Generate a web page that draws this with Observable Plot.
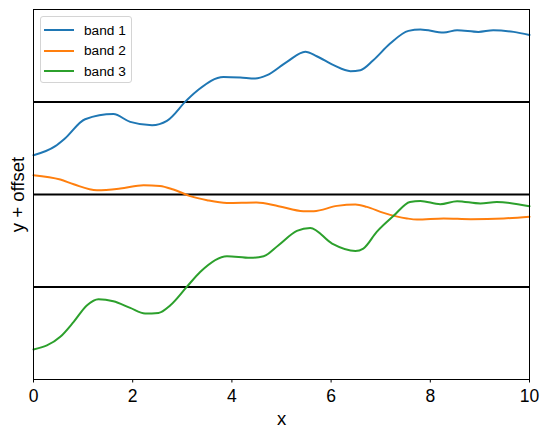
<!DOCTYPE html>
<html>
<head>
<meta charset="utf-8">
<script src="https://cdn.jsdelivr.net/npm/d3@7"></script>
<script src="https://cdn.jsdelivr.net/npm/@observablehq/plot@0.6"></script>
<style>
  html, body { margin: 0; padding: 0; background: #fff; }
  #wrap { position: relative; width: 549px; height: 438px; font-family: "Liberation Sans", Arial, sans-serif; }
  #legend { position: absolute; left: 40px; top: 16px; width: 92px; height: 67px; border: 1px solid #d4d4d4; border-radius: 3px; background: rgba(255,255,255,0.8); box-sizing: border-box; }
  .item { position: absolute; left: 3px; height: 20px; display: flex; align-items: center; font-size: 13.7px; color: #000; }
  .swatch { width: 30px; height: 2px; margin-right: 10px; }
</style>
</head>
<body>
<div id="wrap"><div id="legend"></div></div>
<script>
const seriesNames = ["band 1", "band 2", "band 3"];
const colors = ["#1f77b4", "#ff7f0e", "#2ca02c"];
const xTicks = [0, 2, 4, 6, 8, 10];
const separators = [1, 2, 3];

const band1X = [0, 0.44, 0.64, 1.04, 1.61, 1.95, 2.39, 2.69, 3.09, 3.33, 3.83, 4.17, 4.47, 4.71, 5.11, 5.48, 5.71, 6.05, 6.39, 6.59, 6.85, 7.19, 7.56, 7.80, 8.27, 8.54, 8.97, 9.27, 9.68, 10];
const band1Y = [2.425, 2.523, 2.609, 2.814, 2.869, 2.785, 2.749, 2.796, 3.020, 3.135, 3.271, 3.265, 3.254, 3.290, 3.434, 3.542, 3.495, 3.398, 3.333, 3.344, 3.452, 3.632, 3.769, 3.784, 3.751, 3.776, 3.758, 3.776, 3.758, 3.725];

const band2X = [0, 0.54, 0.81, 1.28, 1.75, 2.22, 2.55, 2.82, 3.16, 3.50, 3.90, 4.50, 4.94, 5.44, 5.65, 6.12, 6.49, 6.72, 7.06, 7.53, 7.73, 8.27, 8.82, 9.48, 10];
const band2Y = [2.209, 2.162, 2.111, 2.046, 2.065, 2.101, 2.093, 2.054, 1.982, 1.938, 1.909, 1.914, 1.874, 1.820, 1.820, 1.877, 1.892, 1.866, 1.801, 1.741, 1.730, 1.741, 1.733, 1.741, 1.760];

const band3X = [0, 0.54, 0.81, 1.08, 1.31, 1.61, 1.95, 2.25, 2.52, 2.76, 3.09, 3.36, 3.90, 4.37, 4.64, 4.94, 5.31, 5.58, 6.02, 6.49, 6.65, 6.92, 7.26, 7.59, 7.80, 8.20, 8.54, 9.01, 9.34, 10];
const band3Y = [0.324, 0.461, 0.623, 0.803, 0.868, 0.846, 0.774, 0.714, 0.720, 0.803, 1.001, 1.163, 1.333, 1.315, 1.333, 1.452, 1.606, 1.639, 1.470, 1.390, 1.416, 1.596, 1.769, 1.920, 1.931, 1.895, 1.928, 1.903, 1.920, 1.872];

const bandX = [band1X, band2X, band3X];
const bandY = [band1Y, band2Y, band3Y];
const data = [];
seriesNames.forEach((name, i) => {
  bandX[i].forEach((x, j) => data.push({band: name, x, y: bandY[i][j]}));
});

const font = "Liberation Sans, Arial, sans-serif";
const chart = Plot.plot({
  width: 549,
  height: 438,
  marginLeft: 33,
  marginRight: 20,
  marginTop: 9,
  marginBottom: 59,
  style: {fontFamily: font, fontSize: "17.5px", background: "white", color: "black"},
  x: {domain: [0, 10]},
  y: {domain: [0, 4]},
  color: {domain: seriesNames, range: colors},
  marks: [
    Plot.ruleY(separators, {stroke: "black", strokeWidth: 2}),
    Plot.line(data, {x: "x", y: "y", z: "band", stroke: "band", strokeWidth: 2, curve: "monotone-x"}),
    Plot.frame({stroke: "black", strokeWidth: 1}),
    Plot.axisX({ticks: xTicks, tickSize: 3.5, tickPadding: 6.5, label: null, fontSize: 17.5, stroke: "black"}),
    Plot.axisY({ticks: [], label: null}),
    Plot.text(["x"], {frameAnchor: "bottom", lineAnchor: "middle", dy: 40, fontSize: 18.5, fill: "black"}),
    Plot.text(["y + offset"], {frameAnchor: "left", textAnchor: "middle", lineAnchor: "middle", dx: -15, rotate: -90, fontSize: 18.5, fill: "black"})
  ]
});
document.getElementById("wrap").prepend(chart);

const legend = document.getElementById("legend");
seriesNames.forEach((name, i) => {
  const item = document.createElement("div");
  item.className = "item";
  item.style.top = (3 + i * 20.7) + "px";
  const sw = document.createElement("span");
  sw.className = "swatch";
  sw.style.background = colors[i];
  const label = document.createElement("span");
  label.textContent = name;
  item.append(sw, label);
  legend.append(item);
});
</script>
</body>
</html>
